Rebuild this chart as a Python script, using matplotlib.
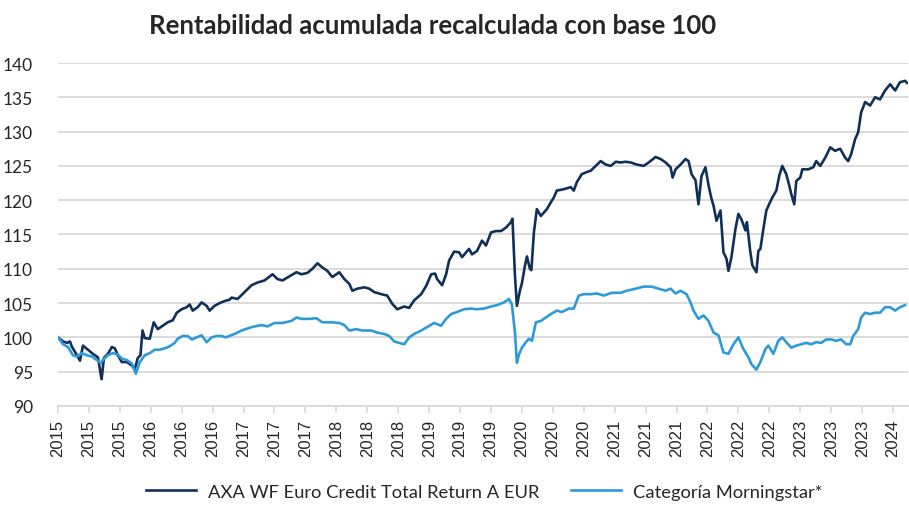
import numpy as np
import matplotlib.pyplot as plt

# --- Data (time in decimal years) ---
fund_years = [
    2015.250, 2015.304, 2015.347, 2015.379, 2015.401, 2015.433, 2015.487, 2015.519, 2015.573, 2015.626,
    2015.680, 2015.720, 2015.745, 2015.788, 2015.831, 2015.863, 2015.895, 2015.938, 2015.992, 2016.046,
    2016.078, 2016.110, 2016.139, 2016.161, 2016.185, 2016.239, 2016.282, 2016.325, 2016.379, 2016.433,
    2016.487, 2016.530, 2016.583, 2016.637, 2016.669, 2016.702, 2016.755, 2016.798, 2016.852, 2016.884,
    2016.938, 2016.992, 2017.046, 2017.099, 2017.121, 2017.185, 2017.261, 2017.336, 2017.401, 2017.476,
    2017.562, 2017.616, 2017.669, 2017.745, 2017.820, 2017.874, 2017.938, 2017.992, 2018.046, 2018.099,
    2018.153, 2018.207, 2018.282, 2018.336, 2018.390, 2018.422, 2018.476, 2018.551, 2018.605, 2018.659,
    2018.734, 2018.798, 2018.852, 2018.906, 2018.981, 2019.035, 2019.089, 2019.164, 2019.218, 2019.272,
    2019.315, 2019.336, 2019.390, 2019.433, 2019.465, 2019.519, 2019.573, 2019.605, 2019.648, 2019.680,
    2019.712, 2019.766, 2019.820, 2019.863, 2019.917, 2019.970, 2020.024, 2020.078, 2020.132, 2020.148,
    2020.175, 2020.196, 2020.228, 2020.250, 2020.282, 2020.304, 2020.336, 2020.352, 2020.379, 2020.411,
    2020.454, 2020.487, 2020.519, 2020.562, 2020.594, 2020.626, 2020.702, 2020.777, 2020.809, 2020.841,
    2020.895, 2020.949, 2020.992, 2021.046, 2021.099, 2021.153, 2021.207, 2021.261, 2021.315, 2021.368,
    2021.422, 2021.487, 2021.562, 2021.616, 2021.691, 2021.745, 2021.798, 2021.852, 2021.874, 2021.906,
    2021.960, 2022.013, 2022.046, 2022.078, 2022.121, 2022.153, 2022.185, 2022.228, 2022.261, 2022.293,
    2022.315, 2022.347, 2022.390, 2022.422, 2022.454, 2022.476, 2022.508, 2022.551, 2022.583, 2022.616,
    2022.659, 2022.675, 2022.712, 2022.734, 2022.777, 2022.798, 2022.820, 2022.852, 2022.884, 2022.917,
    2022.949, 2022.992, 2023.024, 2023.056, 2023.099, 2023.132, 2023.153, 2023.185, 2023.207, 2023.250,
    2023.272, 2023.336, 2023.390, 2023.422, 2023.465, 2023.519, 2023.573, 2023.626, 2023.680, 2023.734,
    2023.766, 2023.798, 2023.841, 2023.874, 2023.906, 2023.949, 2024.003, 2024.056, 2024.110, 2024.164,
    2024.218, 2024.272, 2024.325, 2024.379, 2024.401,
]
fund_values = [
    100.0, 99.4, 99.2, 99.4, 98.6, 97.9, 96.6, 98.8, 98.2, 97.6,
    97.1, 93.9, 97.0, 97.6, 98.6, 98.4, 97.4, 96.4, 96.4, 95.9,
    95.4, 97.0, 97.4, 101.0, 99.9, 99.8, 102.2, 101.2, 101.7, 102.2,
    102.5, 103.6, 104.1, 104.4, 104.8, 103.9, 104.4, 105.1, 104.6, 103.9,
    104.6, 105.0, 105.3, 105.5, 105.8, 105.6, 106.6, 107.6, 108.0, 108.3,
    109.2, 108.5, 108.3, 108.9, 109.5, 109.2, 109.4, 110.0, 110.8, 110.2,
    109.7, 108.8, 109.5, 108.5, 107.8, 106.8, 107.1, 107.3, 107.1, 106.6,
    106.3, 106.1, 104.9, 104.1, 104.5, 104.3, 105.4, 106.3, 107.5, 109.2,
    109.3, 108.5, 107.6, 109.2, 111.2, 112.5, 112.4, 111.7, 112.4, 112.9,
    112.1, 112.6, 114.1, 113.4, 115.3, 115.5, 115.5, 116.0, 116.8, 117.3,
    109.0, 104.6, 106.8, 107.9, 110.4, 111.8, 110.0, 109.8, 115.3, 118.7,
    117.7, 118.2, 118.7, 119.7, 120.4, 121.4, 121.6, 121.9, 121.4, 122.6,
    123.8, 124.1, 124.3, 125.0, 125.7, 125.2, 125.0, 125.6, 125.5, 125.6,
    125.5, 125.2, 125.0, 125.5, 126.3, 126.0, 125.5, 124.8, 123.3, 124.5,
    125.2, 126.0, 125.7, 123.8, 122.9, 119.4, 123.5, 124.8, 122.2, 120.2,
    119.2, 117.0, 118.5, 112.4, 111.5, 109.7, 111.7, 115.8, 118.0, 117.2,
    115.6, 116.8, 112.4, 110.5, 109.5, 112.6, 112.9, 115.8, 118.5, 119.5,
    120.4, 121.4, 123.6, 125.0, 123.8, 122.1, 120.9, 119.4, 122.8, 123.3,
    124.5, 124.5, 124.8, 125.7, 125.0, 126.2, 127.7, 127.2, 127.5, 126.2,
    125.7, 126.7, 128.9, 129.9, 132.8, 134.3, 133.8, 135.0, 134.7, 136.0,
    136.9, 136.0, 137.2, 137.4, 137.1,
]

cat_years = [
    2015.250, 2015.304, 2015.358, 2015.411, 2015.454, 2015.508, 2015.562, 2015.616, 2015.669, 2015.712,
    2015.734, 2015.788, 2015.841, 2015.895, 2015.938, 2015.992, 2016.046, 2016.089, 2016.132, 2016.185,
    2016.239, 2016.293, 2016.347, 2016.401, 2016.454, 2016.508, 2016.540, 2016.594, 2016.648, 2016.691,
    2016.745, 2016.798, 2016.852, 2016.906, 2016.960, 2017.013, 2017.056, 2017.153, 2017.228, 2017.336,
    2017.444, 2017.508, 2017.583, 2017.669, 2017.766, 2017.820, 2017.874, 2017.960, 2018.035, 2018.099,
    2018.196, 2018.282, 2018.336, 2018.390, 2018.465, 2018.530, 2018.626, 2018.691, 2018.766, 2018.820,
    2018.874, 2018.927, 2018.981, 2019.035, 2019.089, 2019.164, 2019.228, 2019.304, 2019.379, 2019.433,
    2019.487, 2019.551, 2019.626, 2019.702, 2019.766, 2019.841, 2019.917, 2019.981, 2020.056, 2020.110,
    2020.142, 2020.175, 2020.196, 2020.218, 2020.250, 2020.293, 2020.325, 2020.358, 2020.401, 2020.454,
    2020.508, 2020.562, 2020.626, 2020.680, 2020.755, 2020.809, 2020.863, 2020.917, 2020.992, 2021.056,
    2021.132, 2021.218, 2021.315, 2021.379, 2021.476, 2021.562, 2021.648, 2021.723, 2021.798, 2021.852,
    2021.906, 2021.960, 2022.024, 2022.067, 2022.099, 2022.153, 2022.207, 2022.261, 2022.315, 2022.368,
    2022.422, 2022.476, 2022.530, 2022.583, 2022.637, 2022.691, 2022.723, 2022.777, 2022.820, 2022.874,
    2022.906, 2022.960, 2023.013, 2023.056, 2023.099, 2023.153, 2023.207, 2023.261, 2023.315, 2023.368,
    2023.422, 2023.476, 2023.530, 2023.583, 2023.637, 2023.691, 2023.745, 2023.788, 2023.820, 2023.874,
    2023.906, 2023.949, 2024.003, 2024.056, 2024.110, 2024.164, 2024.218, 2024.272, 2024.325, 2024.379,
]
cat_values = [
    100.0, 99.0, 98.6, 97.4, 97.2, 97.7, 97.4, 97.2, 96.7, 96.2,
    96.7, 97.4, 97.7, 97.5, 96.9, 96.7, 96.2, 94.7, 96.4, 97.4,
    97.7, 98.2, 98.2, 98.4, 98.7, 99.2, 99.8, 100.2, 100.2, 99.7,
    100.0, 100.3, 99.3, 100.0, 100.2, 100.2, 100.0, 100.5, 101.0, 101.5,
    101.8, 101.6, 102.1, 102.1, 102.4, 102.9, 102.7, 102.7, 102.8, 102.2,
    102.2, 102.1, 101.8, 101.0, 101.2, 101.0, 101.0, 100.7, 100.5, 100.2,
    99.4, 99.2, 99.0, 100.0, 100.5, 101.0, 101.5, 102.1, 101.7, 102.7,
    103.4, 103.7, 104.1, 104.2, 104.1, 104.2, 104.5, 104.7, 105.1, 105.6,
    104.8, 100.7, 96.3, 97.5, 98.5, 99.3, 99.8, 99.5, 102.2, 102.4,
    102.9, 103.4, 103.9, 103.7, 104.2, 104.2, 106.1, 106.3, 106.3, 106.4,
    106.1, 106.5, 106.5, 106.8, 107.1, 107.4, 107.4, 107.1, 106.8, 107.1,
    106.4, 106.8, 106.3, 105.1, 103.9, 102.7, 103.2, 102.4, 100.7, 100.3,
    97.8, 97.6, 99.0, 100.0, 98.3, 97.1, 96.1, 95.3, 96.4, 98.3,
    98.8, 97.6, 99.5, 100.0, 99.3, 98.5, 98.8, 99.0, 99.2, 99.0,
    99.3, 99.2, 99.7, 99.7, 99.5, 99.7, 99.0, 99.0, 100.2, 101.2,
    102.9, 103.6, 103.4, 103.6, 103.6, 104.4, 104.4, 103.9, 104.4, 104.7,
]

x_tick_labels = ['2015', '2015', '2015', '2016', '2016', '2016', '2017', '2017', '2017',
                 '2018', '2018', '2018', '2019', '2019', '2019', '2020', '2020', '2020',
                 '2021', '2021', '2021', '2022', '2022', '2022', '2023', '2023', '2023', '2024']

FUND_LABEL = "AXA WF Euro Credit Total Return A EUR"
CAT_LABEL = "Categoría Morningstar*"
TITLE = "Rentabilidad acumulada recalculada con base 100"

DARK = "#10305a"
LIGHT = "#2f9ad8"
GRID = "#d9d9d9"
TEXT = "#262626"

# --- Plot ---
fig = plt.figure(figsize=(9.09, 5.06), dpi=100)
ax = fig.add_axes([0.0638, 0.1957, 0.935, 0.6778])

ax.plot(fund_years, fund_values, color=DARK, lw=1.9, label=FUND_LABEL, solid_joinstyle='round')
ax.plot(cat_years, cat_values, color=LIGHT, lw=1.9, label=CAT_LABEL, solid_joinstyle='round')

ax.set_xlim(2015.25, 2024.41)
ax.set_ylim(90, 140)
ax.set_yticks(np.arange(90, 141, 5))
ax.set_yticklabels([str(v) for v in range(90, 141, 5)], fontfamily='Lato', fontsize=12.5, color=TEXT)

xt = 2015.25 + np.arange(len(x_tick_labels)) / 3
ax.set_xticks(xt)
ax.set_xticklabels(x_tick_labels, rotation=90, fontfamily='Liberation Sans', fontsize=12, color=TEXT)

ax.grid(axis='y', color=GRID, lw=1.3)
ax.set_axisbelow(True)
for s in ['top', 'right', 'left']:
    ax.spines[s].set_visible(False)
ax.spines['bottom'].set_color(GRID)
ax.spines['bottom'].set_linewidth(1.3)
ax.tick_params(axis='y', length=0, pad=18)
ax.tick_params(axis='x', length=5, width=1.2, color=GRID, pad=4)

fig.text(0.476, 0.948, TITLE, ha='center', va='center', fontfamily='Lato',
         fontweight='bold', fontsize=18.5, color=TEXT)

fig.legend(loc='lower center', bbox_to_anchor=(0.533, -0.022), ncol=2, frameon=False,
           prop={'family': 'Lato', 'size': 13.2}, handlelength=2.7, handletextpad=0.7,
           columnspacing=1.7, labelcolor=TEXT)

fig.savefig("out.png", dpi=100)
